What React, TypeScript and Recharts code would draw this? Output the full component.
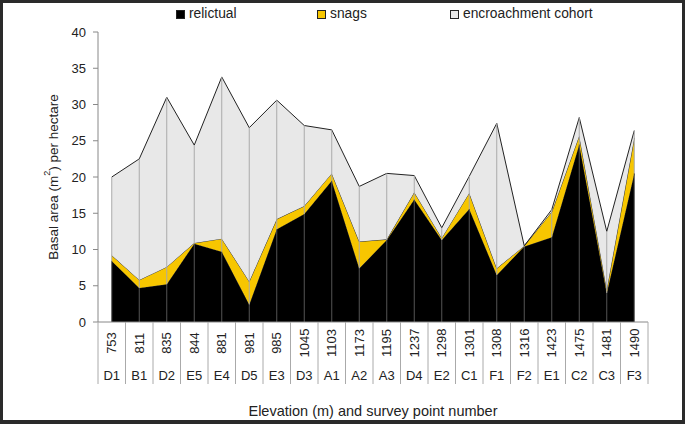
import React from 'react';
import { AreaChart, Area, XAxis, YAxis, ReferenceLine, Label } from 'recharts';

const codes = ['D1', 'B1', 'D2', 'E5', 'E4', 'D5', 'E3', 'D3', 'A1', 'A2', 'A3', 'D4', 'E2', 'C1', 'F1', 'F2', 'E1', 'C2', 'C3', 'F3'];
const elevations = [753, 811, 835, 844, 881, 981, 985, 1045, 1103, 1173, 1195, 1237, 1298, 1301, 1308, 1316, 1423, 1475, 1481, 1490];
const relictual = [8.4, 4.7, 5.2, 10.8, 9.7, 2.4, 12.8, 14.9, 19.5, 7.4, 11.3, 16.9, 11.3, 15.6, 6.5, 10.4, 11.7, 24.5, 4.0, 20.5];
const snags = [0.8, 1.1, 2.4, 0.1, 1.8, 3.2, 1.4, 1.1, 1.0, 3.7, 0.1, 1.0, 0.3, 2.2, 0.9, 0.1, 3.5, 1.2, 0.5, 4.9];
const encroachment = [10.8, 16.7, 23.4, 13.5, 22.3, 21.2, 16.4, 11.1, 6.0, 7.6, 9.1, 2.3, 1.4, 2.3, 20.0, 0.0, 0.3, 2.5, 8.0, 1.0];
const yTicks = [0, 5, 10, 15, 20, 25, 30, 35, 40];

const data = codes.map((code, i) => ({
  code,
  elevation: elevations[i],
  relictual: relictual[i],
  snags: snags[i],
  encroachment: encroachment[i],
}));

const FONT = '"Liberation Sans", Arial, sans-serif';
const HALF_CAT = 13.75;

const CategoryTick = (props: any) => {
  const { x, y, index } = props;
  const elev = elevations[index];
  const code = codes[index];
  return (
    <g>
      {index === 0 && (
        <line x1={x - HALF_CAT} x2={x - HALF_CAT} y1={y} y2={y + 62} stroke="#aaa" />
      )}
      <line x1={x + HALF_CAT} x2={x + HALF_CAT} y1={y} y2={y + 62} stroke="#aaa" />
      <text
        x={x}
        y={y + 21}
        transform={`rotate(-90, ${x}, ${y + 21})`}
        textAnchor="middle"
        dominantBaseline="central"
        fontSize={13}
        fill="#222"
        fontFamily={FONT}
      >
        {elev}
      </text>
      <text x={x} y={y + 53} textAnchor="middle" dominantBaseline="central" fontSize={13} fill="#222" fontFamily={FONT}>
        {code}
      </text>
    </g>
  );
};

const YTitle = (props: any) => {
  const { viewBox } = props;
  const cx = viewBox.x + 53;
  const cy = viewBox.y + viewBox.height / 2;
  return (
    <text
      x={cx}
      y={cy}
      transform={`rotate(-90, ${cx}, ${cy})`}
      textAnchor="middle"
      dominantBaseline="central"
      fontSize={13.5}
      fill="#222"
      fontFamily={FONT}
    >
      Basal area (m
      <tspan fontSize={9} dy={-6}>2</tspan>
      <tspan dy={6}>) per hectare</tspan>
    </text>
  );
};

const XTitle = (props: any) => {
  const { viewBox } = props;
  return (
    <text
      x={viewBox.x + viewBox.width / 2}
      y={viewBox.y + 89}
      textAnchor="middle"
      dominantBaseline="central"
      fontSize={14.5}
      fill="#222"
      fontFamily={FONT}
    >
      Elevation (m) and survey point number
    </text>
  );
};

const legendItems = [
  { label: 'relictual', color: '#000000', left: 176 },
  { label: 'snags', color: '#f7c600', left: 317 },
  { label: 'encroachment cohort', color: '#e8e8e8', left: 450 },
];

const App: React.FC = () => {
  return (
    <div style={{ position: 'absolute', left: 0, top: 0, width: 685, height: 424, background: '#fff', fontFamily: FONT }}>
      <AreaChart width={685} height={424} data={data} margin={{ top: 32, right: 37, bottom: 32, left: 0 }}>
        <XAxis
          dataKey="code"
          interval={0}
          height={70}
          padding={{ left: HALF_CAT, right: HALF_CAT }}
          tick={<CategoryTick />}
          tickLine={false}
          tickSize={0}
          tickMargin={0}
          axisLine={{ stroke: '#888' }}
        >
          <Label content={<XTitle />} />
        </XAxis>
        <YAxis
          width={98}
          domain={[0, 40]}
          ticks={yTicks}
          interval={0}
          tickSize={5}
          tickMargin={7}
          tick={{ fill: '#222', fontSize: 13, fontFamily: FONT }}
          tickLine={{ stroke: '#888' }}
          axisLine={{ stroke: '#888' }}
        >
          <Label content={<YTitle />} />
        </YAxis>
        <Area type="linear" dataKey="relictual" stackId="1" fill="#000000" fillOpacity={1} stroke="#222" strokeWidth={1} isAnimationActive={false} />
        <Area type="linear" dataKey="snags" stackId="1" fill="#f7c600" fillOpacity={1} stroke="#333" strokeWidth={1} isAnimationActive={false} />
        <Area type="linear" dataKey="encroachment" stackId="1" fill="#e8e8e8" fillOpacity={1} stroke="#222" strokeWidth={1} isAnimationActive={false} />
        {data.map((d) => (
          <ReferenceLine
            key={`r-${d.code}`}
            segment={[{ x: d.code, y: 0 }, { x: d.code, y: d.relictual }]}
            stroke="#555"
            strokeWidth={1}
          />
        ))}
        {data.map((d) => (
          <ReferenceLine
            key={`t-${d.code}`}
            segment={[{ x: d.code, y: d.relictual }, { x: d.code, y: d.relictual + d.snags + d.encroachment }]}
            stroke="#aaa"
            strokeWidth={1}
          />
        ))}
      </AreaChart>
      {legendItems.map((item) => (
        <div
          key={item.label}
          style={{ position: 'absolute', top: 6, left: item.left, display: 'flex', alignItems: 'center', fontSize: 13.8, color: '#222', lineHeight: '16px' }}
        >
          <span style={{ width: 7, height: 7, background: item.color, border: '1px solid #222', marginRight: 4 }} />
          <span>{item.label}</span>
        </div>
      ))}
      <div
        style={{
          position: 'absolute',
          inset: 0,
          border: '3px solid #2a2a2a',
          borderBottomWidth: 4,
          boxSizing: 'border-box',
          pointerEvents: 'none',
        }}
      />
    </div>
  );
};

export default App;
